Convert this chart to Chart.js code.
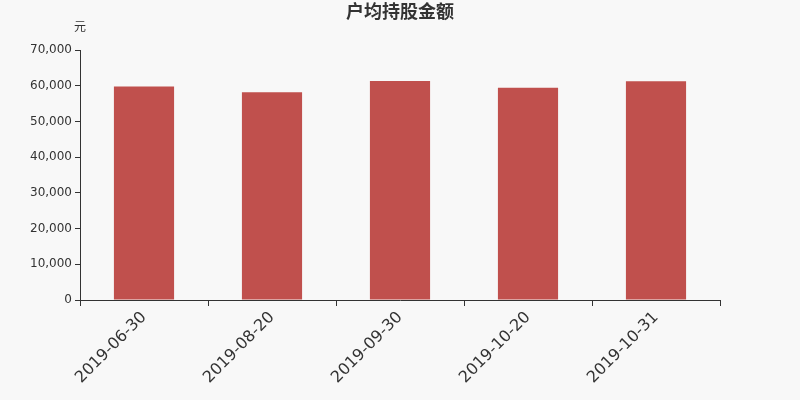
<!DOCTYPE html>
<html>
<head>
<meta charset="utf-8">
<script src="https://cdn.jsdelivr.net/npm/chart.js@4"></script>
<style>
  html, body { margin: 0; padding: 0; background: #f8f8f8; }
  #wrap { width: 800px; height: 400px; }
</style>
</head>
<body>
<div id="wrap"><canvas id="holdChart"></canvas></div>
<script>
const categories = ["2019-06-30", "2019-08-20", "2019-09-30", "2019-10-20", "2019-10-31"];
const amounts = [59800, 58150, 61350, 59450, 61250];
const yTicks = [0, 10000, 20000, 30000, 40000, 50000, 60000, 70000];

const FONT = "'DejaVu Sans', 'Noto Sans CJK SC', sans-serif";

// unit label above the y axis
const unitLabel = {
  id: "unitLabel",
  afterDraw(chart) {
    const c = chart.ctx;
    c.save();
    c.font = "12px " + FONT;
    c.fillStyle = "#333";
    c.textAlign = "center";
    c.textBaseline = "middle";
    c.fillText("元", chart.chartArea.left, 28);
    c.restore();
  }
};

new Chart(document.getElementById("holdChart").getContext("2d"), {
  type: "bar",
  data: {
    labels: categories,
    datasets: [{
      data: amounts,
      backgroundColor: "#c0504d",
      barPercentage: 0.47,
      categoryPercentage: 1
    }]
  },
  options: {
    responsive: true,
    maintainAspectRatio: false,
    animation: false,
    layout: { padding: 0 },
    plugins: {
      legend: { display: false },
      tooltip: { enabled: false },
      title: {
        display: true,
        text: "户均持股金额",
        color: "#333",
        font: { family: FONT, size: 18, weight: "bold" },
        padding: { top: 3, bottom: 25.4 }
      }
    },
    scales: {
      x: {
        grid: { display: true, drawOnChartArea: false, tickLength: 6, color: "#333" },
        border: { color: "#333" },
        ticks: {
          color: "#333",
          font: { family: FONT, size: 16 },
          maxRotation: 45,
          minRotation: 45,
          padding: 2
        },
        afterFit(scale) { scale.height = 100; }
      },
      y: {
        min: 0,
        max: 70000,
        grid: { display: true, drawOnChartArea: false, tickLength: 5, color: "#333" },
        border: { color: "#333" },
        afterBuildTicks(scale) { scale.ticks = yTicks.map(v => ({ value: v })); },
        ticks: {
          color: "#333",
          font: { family: FONT, size: 12 },
          padding: 3,
          callback: v => v.toLocaleString("en-US")
        },
        afterFit(scale) { scale.width = 80; }
      },
      // empty right-hand spacer so the title stays centred on the page
      spacer: {
        position: "right",
        display: true,
        grid: { display: false },
        border: { display: false },
        ticks: { display: false },
        afterFit(scale) { scale.width = 80; }
      }
    }
  },
  plugins: [unitLabel]
});
</script>
</body>
</html>
